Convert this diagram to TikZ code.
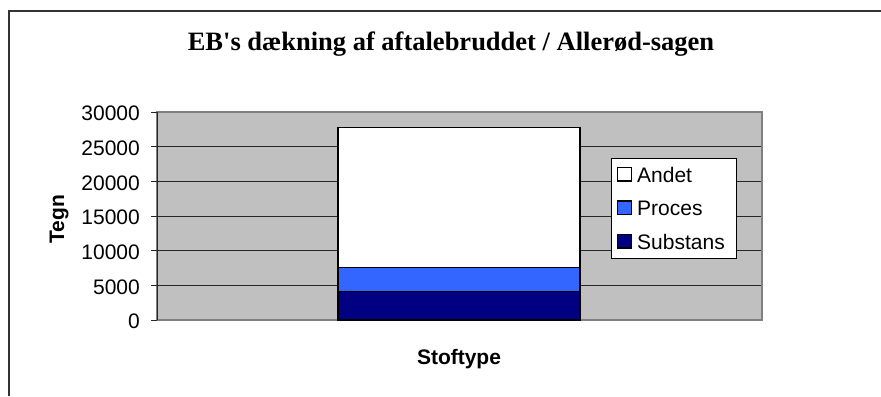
\documentclass[tikz,border=0pt]{standalone}
\usepackage{fontspec}
\setmainfont{Liberation Sans}
\newfontfamily\titlefont{Liberation Serif}
\definecolor{plotgray}{HTML}{C0C0C0}
\definecolor{bordergray}{HTML}{808080}
\definecolor{procesblue}{HTML}{3366FF}
\definecolor{substansnavy}{HTML}{000080}
\begin{document}
\begin{tikzpicture}[x=1bp,y=-1bp,
  lbl/.style={inner sep=0pt,font=\fontsize{21bp}{24bp}\selectfont},
  axtitle/.style={inner sep=0pt,font=\fontsize{21bp}{24bp}\selectfont\bfseries},
  gridline/.style={draw=black!85,line width=0.9bp},
  barseg/.style={draw=black,line width=1.6bp},
  legsq/.style={draw=black,line width=1.2bp}]
\useasboundingbox (0,0) rectangle (881,396);
\fill[white] (0,0) rectangle (881,396);
% outer frame (cut at right and bottom)
\draw[black!80,line width=1.3bp] (9,396) -- (9,11) -- (881,11);
% title
\node[inner sep=0pt,anchor=base,font=\fontsize{26.5bp}{30bp}\selectfont\titlefont\bfseries] (title) at (451,50) {EB's dækning af aftalebruddet / Allerød-sagen};
% plot area
\fill[plotgray] (157,112) rectangle (762,320);
\foreach \i in {1,...,5}
  \draw[gridline] (157,{112+\i*34.667}) -- (762,{112+\i*34.667});
\draw[bordergray,line width=1.3bp] (157,112) rectangle (762,320);
\draw[black!85,line width=1bp] (157,112) -- (157,320);
% ticks and labels
\foreach \v [count=\i from 0] in {30000,25000,20000,15000,10000,5000,0} {
  \draw[black!85,line width=1bp] (151,{112+\i*34.667}) -- (157,{112+\i*34.667});
  \node[lbl,anchor=east] (tick\i) at (140,{113.5+\i*34.667}) {\v};
}
% bar
\draw[barseg,fill=white] (338,267.3) rectangle (580,127.3);
\draw[barseg,fill=procesblue] (338,291.6) rectangle (580,267.3);
\draw[barseg,fill=substansnavy] (338,320) rectangle (580,291.6);
% axis titles
\node[axtitle,anchor=base,rotate=90] (ytitle) at (64,219) {Tegn};
\node[axtitle,anchor=base] (xtitle) at (459,364) {Stoftype};
% legend
\node[draw=black,line width=0.8bp,fill=white,minimum width=125bp,minimum height=100bp,inner sep=0pt] (legend) at (673.5,208) {};
\draw[legsq,fill=white] (617.5,167.5) rectangle (631.5,181);
\draw[legsq,fill=procesblue] (617.5,201) rectangle (631.5,214.5);
\draw[legsq,fill=substansnavy] (617.5,234.5) rectangle (631.5,248);
\node[lbl,anchor=base west] (lAndet) at (637,182) {Andet};
\node[lbl,anchor=base west] (lProces) at (637,215.5) {Proces};
\node[lbl,anchor=base west] (lSubstans) at (637,249) {Substans};
\end{tikzpicture}
\end{document}
